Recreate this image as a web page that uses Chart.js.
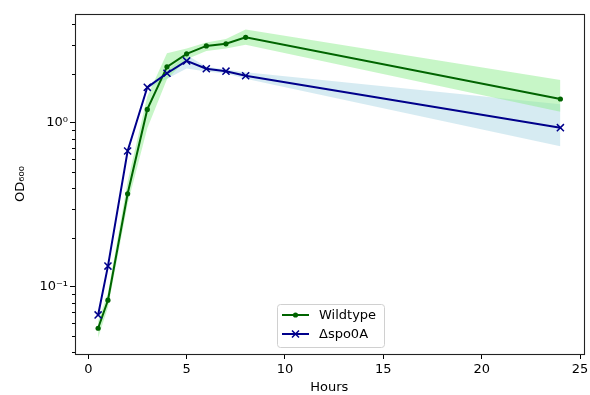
<!DOCTYPE html>
<html>
<head>
<meta charset="utf-8">
<script src="https://cdn.jsdelivr.net/npm/chart.js@4"></script>
<style>
  html, body { margin: 0; padding: 0; background: #fff; }
  #wrap { width: 590px; height: 395px; }
</style>
</head>
<body>
<div id="wrap"><canvas id="c" width="590" height="395"></canvas></div>
<script>
// ---- data ----
const hours = [0.5, 1, 2, 3, 4, 5, 6, 7, 8, 24];
const wildtype     = [0.056, 0.083, 0.37, 1.21, 2.20, 2.64, 2.95, 3.04, 3.33, 1.40];
const wildtypeLow  = [0.049, 0.075, 0.32, 0.93, 1.85, 2.45, 2.75, 2.85, 3.00, 1.17];
const wildtypeHigh = [0.062, 0.092, 0.44, 1.45, 2.66, 2.85, 3.10, 3.25, 3.72, 1.83];
const spo0A     = [0.0675, 0.134, 0.675, 1.65, 2.01, 2.39, 2.14, 2.07, 1.94, 0.936];
const spo0ALow  = [0.066, 0.131, 0.66, 1.62, 1.86, 2.15, 2.06, 2.00, 1.86, 0.72];
const spo0AHigh = [0.069, 0.137, 0.69, 1.68, 2.08, 2.60, 2.20, 2.12, 2.04, 1.30];
const seriesLabels = ['Wildtype', '\u0394spo0A'];
const xTickValues = [0, 5, 10, 15, 20, 25];
const yTickValues = [0.1, 1];
const yTickLabels = ['10\u207B\u00B9', '10\u2070'];
const yMinorTicks = [0.04, 0.05, 0.06, 0.07, 0.08, 0.09, 0.2, 0.3, 0.4, 0.5, 0.6, 0.7, 0.8, 0.9, 2, 3, 4];
const xTitle = 'Hours';
const yTitle = 'OD\u2086\u2080\u2080';

const pts = (ys) => hours.map((h, i) => ({ x: h, y: ys[i] }));
const FONT = 'DejaVu Sans';
const FS = 13;

const bandDs = (label, ys, fill, color) => ({
  label, data: pts(ys), fill, backgroundColor: color, borderWidth: 0,
  pointRadius: 0, order: 5, isBand: true
});

const frameAndLegend = {
  id: 'frameAndLegend',
  afterDraw(chart) {
    const { ctx, chartArea: a, scales: { y } } = chart;
    ctx.save();
    // minor ticks on y axis
    ctx.strokeStyle = '#000';
    ctx.lineWidth = 1;
    ctx.beginPath();
    yMinorTicks.forEach(v => {
      const py = Math.round(y.getPixelForValue(v)) + 0.5;
      ctx.moveTo(a.left, py); ctx.lineTo(a.left - 3, py);
    });
    ctx.stroke();
    // frame
    ctx.strokeStyle = '#222';
    ctx.lineWidth = 1.1;
    ctx.strokeRect(Math.round(a.left) + 0.5, Math.round(a.top) + 0.5,
                   Math.round(a.right - a.left), Math.round(a.bottom - a.top));
    // legend
    const lx = 277, ly = 304, lw = 107, lh = 43;
    ctx.fillStyle = 'rgba(255,255,255,0.85)';
    ctx.strokeStyle = '#d0d0d0';
    ctx.lineWidth = 1;
    ctx.beginPath();
    ctx.roundRect(lx + 0.5, ly + 0.5, lw, lh, 3);
    ctx.fill(); ctx.stroke();
    const lines = chart.data.datasets.filter(d => !d.isBand);
    lines.forEach((d, i) => {
      const cy = 315 + i * 19;
      ctx.strokeStyle = d.borderColor;
      ctx.lineWidth = 2;
      ctx.beginPath(); ctx.moveTo(282, cy); ctx.lineTo(309, cy); ctx.stroke();
      if (d.pointStyle === 'circle') {
        ctx.fillStyle = d.borderColor;
        ctx.beginPath(); ctx.arc(295.5, cy, 2.6, 0, Math.PI * 2); ctx.fill();
      } else {
        ctx.lineWidth = 1.5;
        ctx.beginPath();
        ctx.moveTo(292, cy - 3.6); ctx.lineTo(299, cy + 3.6);
        ctx.moveTo(292, cy + 3.6); ctx.lineTo(299, cy - 3.6);
        ctx.stroke();
      }
      ctx.fillStyle = '#000';
      ctx.font = FS + 'px "' + FONT + '"';
      ctx.textBaseline = 'middle';
      ctx.textAlign = 'left';
      ctx.fillText(d.label, 319, cy + 0.5);
    });
    ctx.restore();
  }
};

new Chart(document.getElementById('c'), {
  type: 'line',
  data: {
    datasets: [
      bandDs('wtHigh', wildtypeHigh, '+1', 'rgba(144,238,144,0.5)'),
      bandDs('wtLow', wildtypeLow, false, 'rgba(0,0,0,0)'),
      bandDs('spHigh', spo0AHigh, '+1', 'rgba(173,216,230,0.5)'),
      bandDs('spLow', spo0ALow, false, 'rgba(0,0,0,0)'),
      {
        label: seriesLabels[0], data: pts(wildtype), borderColor: '#006400',
        backgroundColor: '#006400', borderWidth: 2, pointStyle: 'circle',
        pointRadius: 2.6, pointBorderWidth: 0, fill: false, order: 1
      },
      {
        label: seriesLabels[1], data: pts(spo0A), borderColor: '#00008B',
        backgroundColor: '#00008B', borderWidth: 2, pointStyle: 'crossRot',
        pointRadius: 5, pointBorderWidth: 1.5, fill: false, order: 0
      }
    ]
  },
  options: {
    responsive: false,
    animation: false,
    events: [],
    layout: { padding: { top: 14, right: 4.5, left: 0, bottom: 0 } },
    plugins: {
      legend: { display: false },
      tooltip: { enabled: false },
      filler: { propagate: false }
    },
    elements: { line: { tension: 0 } },
    scales: {
      x: {
        type: 'linear', min: -0.675, max: 25.175,
        afterBuildTicks: (s) => { s.ticks = xTickValues.map(v => ({ value: v })); },
        afterFit: (s) => { s.height = 41; s.paddingLeft = 0; s.paddingRight = 0; },
        grid: { display: true, drawOnChartArea: false, drawTicks: true, tickLength: 5, tickColor: '#000', tickWidth: 1 },
        border: { display: false },
        ticks: { color: '#000', font: { family: FONT, size: FS }, padding: 3, maxRotation: 0,
                 callback: (v) => String(v) },
        title: { display: true, text: xTitle, color: '#000', font: { family: FONT, size: FS },
                 padding: { top: 0, bottom: 0 } }
      },
      y: {
        type: 'logarithmic', min: 0.039, max: 4.62,
        afterBuildTicks: (s) => { s.ticks = yTickValues.map(v => ({ value: v })); },
        afterFit: (s) => { s.width = 75; s.paddingTop = 0; s.paddingBottom = 0; },
        grid: { display: true, drawOnChartArea: false, drawTicks: true, tickLength: 5, tickColor: '#000', tickWidth: 1 },
        border: { display: false },
        ticks: { color: '#000', font: { family: FONT, size: FS }, padding: 2,
                 callback: (v) => { const i = yTickValues.indexOf(v); return i >= 0 ? yTickLabels[i] : ''; } },
        title: { display: true, text: yTitle, color: '#000', font: { family: FONT, size: FS },
                 padding: { top: 13, bottom: 0 } }
      }
    }
  },
  plugins: [frameAndLegend]
});
</script>
</body>
</html>
